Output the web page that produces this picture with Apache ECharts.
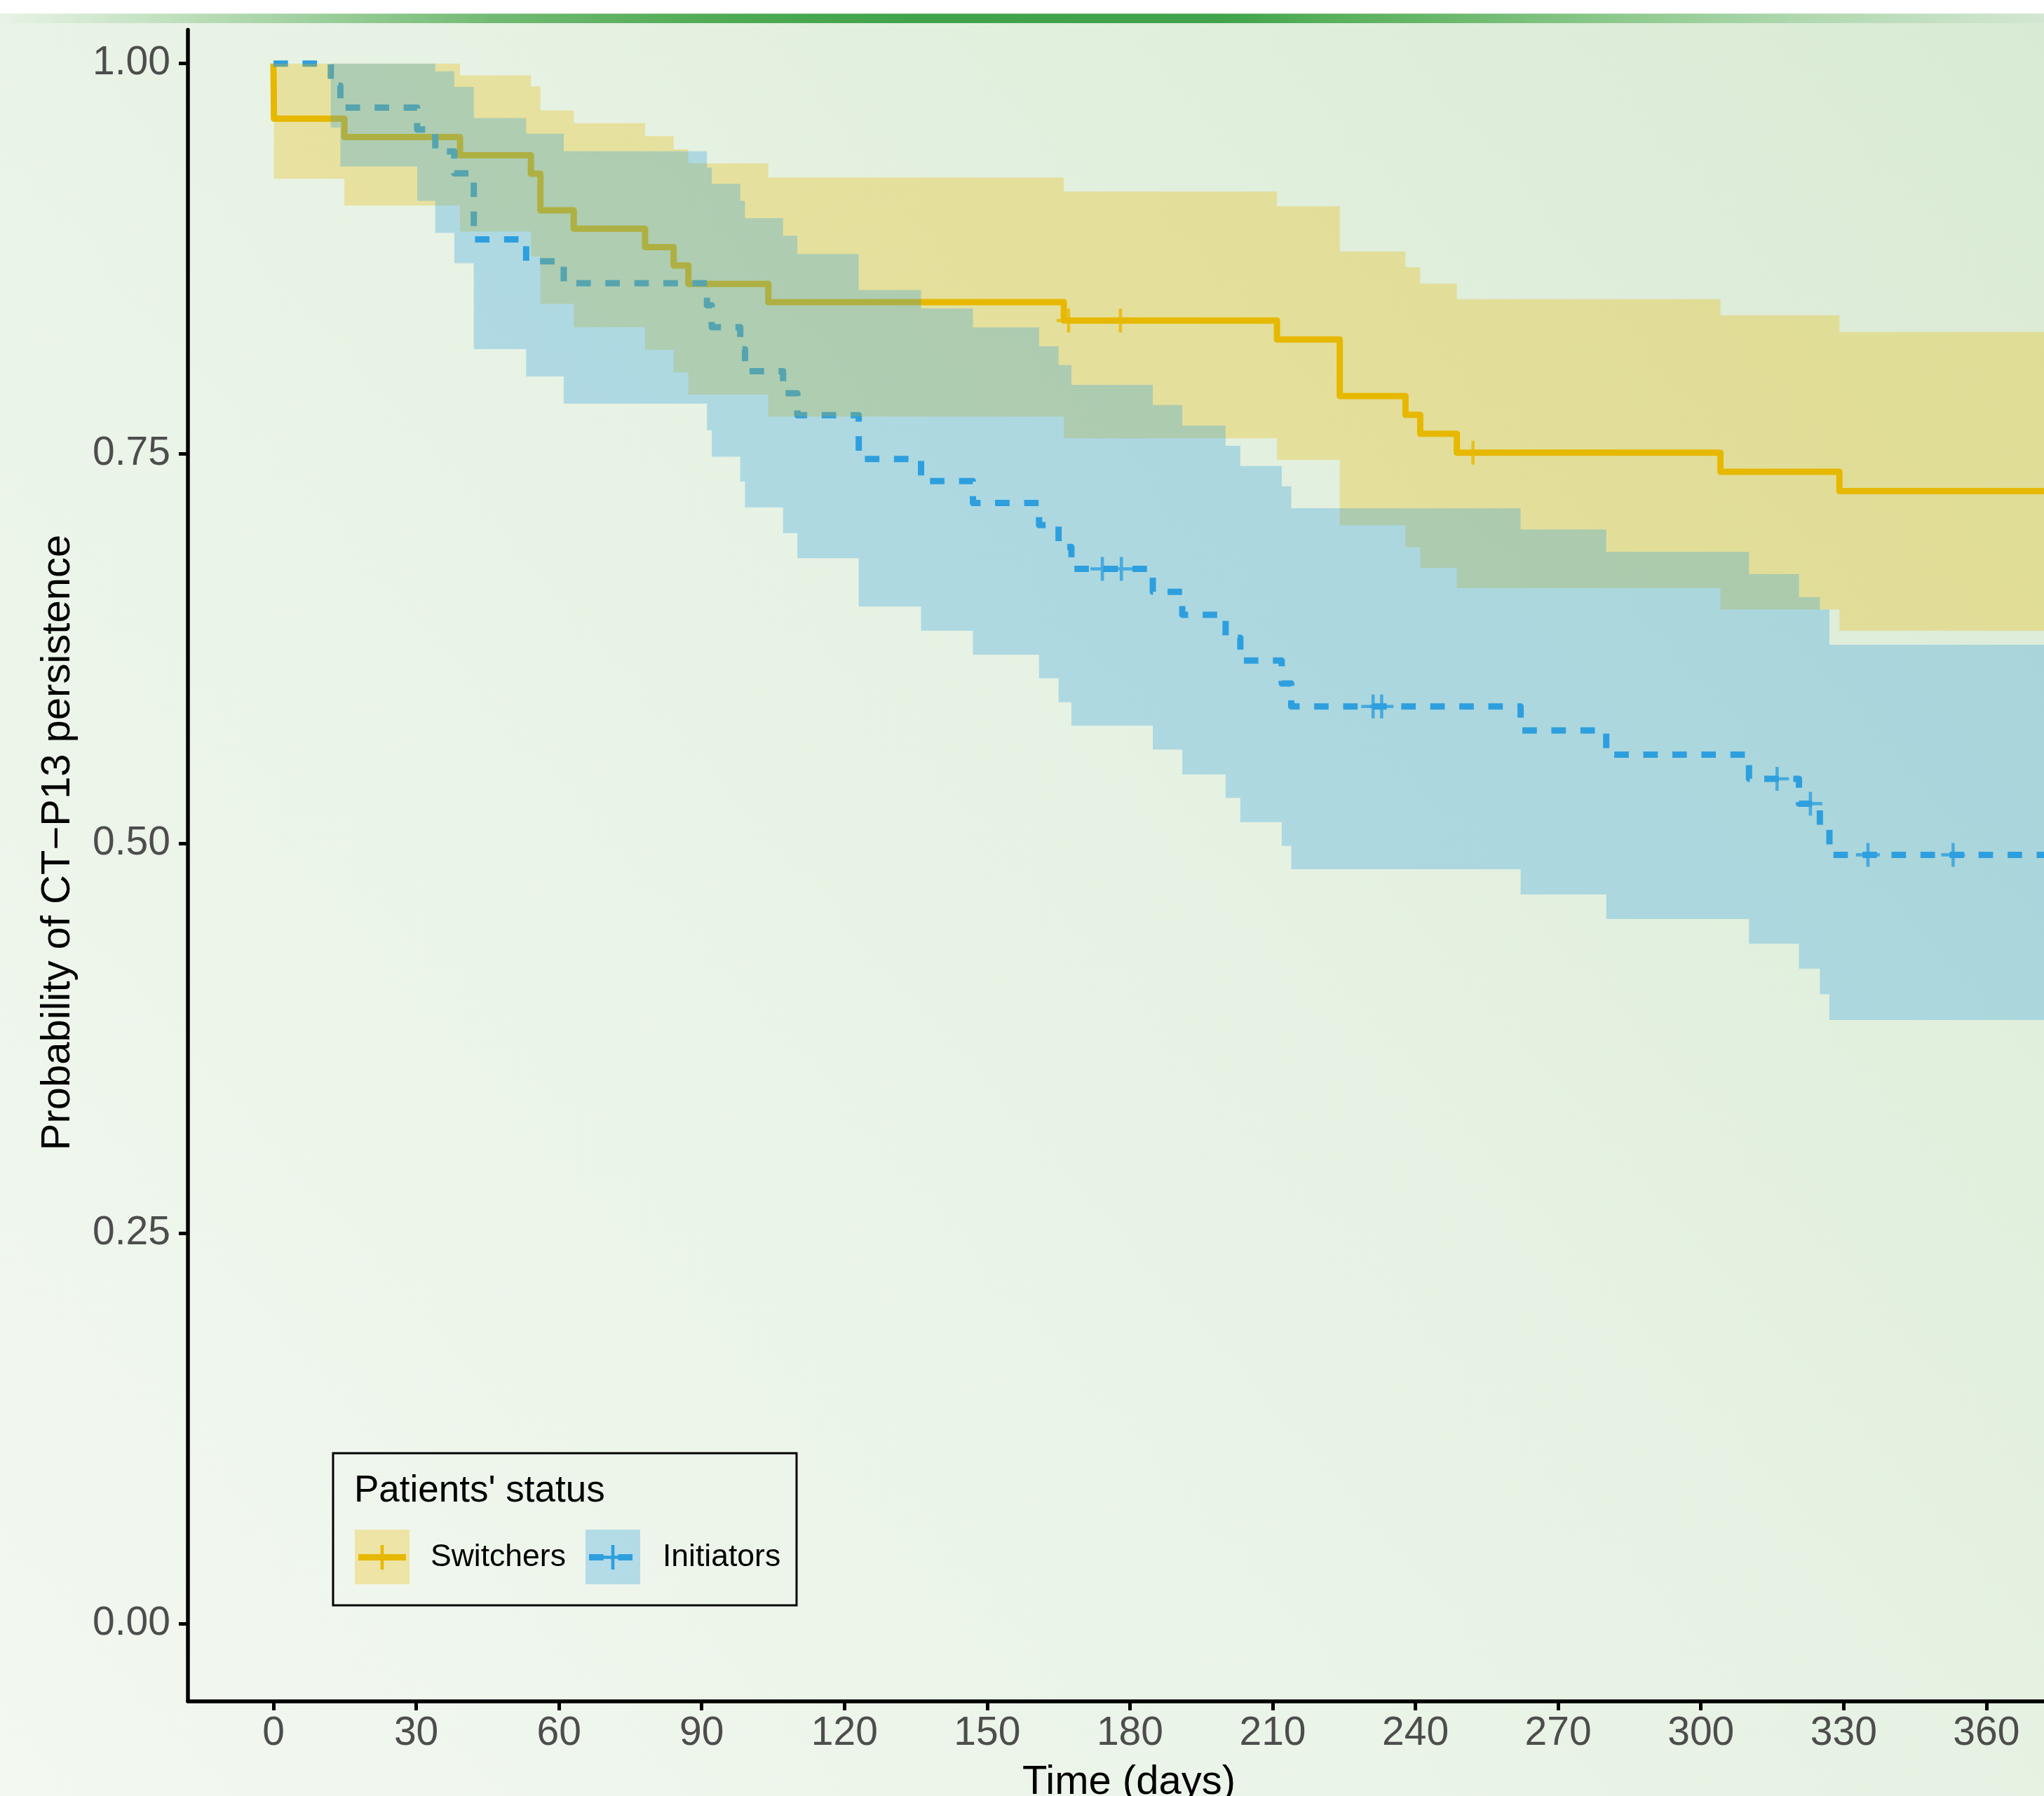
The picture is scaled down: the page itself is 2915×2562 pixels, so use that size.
<!DOCTYPE html>
<html>
<head>
<meta charset="utf-8">
<script src="https://cdn.jsdelivr.net/npm/echarts@6/dist/echarts.min.js"></script>
<style>
html,body{margin:0;padding:0;background:#ffffff;}
#chart{width:2915px;height:2562px;}
</style>
</head>
<body>
<div id="chart"></div>
<script>
// ---------------- data ----------------
const xTicks = [0, 30, 60, 90, 120, 150, 180, 210, 240, 270, 300, 330, 360];
const yTicks = [0, 0.25, 0.5, 0.75, 1];

const groupNames = ['Switchers', 'Initiators'];
const legendTitle = "Patients' status";

// Switchers: step times, survival, 95% CI
const switchTime  = [0, 0.1, 14.9, 39.2, 54.1, 56.1, 63.1, 78.1, 84.1, 87.2, 104.0, 166.1, 210.9, 224.1, 237.9, 241.0, 248.7, 304.1, 329.1, 372.1];
const switchSurv  = [1, 0.9647, 0.9529, 0.9412, 0.9294, 0.9059, 0.8941, 0.8824, 0.8706, 0.8588, 0.8471, 0.8353, 0.8232, 0.7869, 0.7748, 0.7627, 0.7506, 0.7383, 0.7260, 0.7260];
const switchLower = [1, 0.9262, 0.909, 0.8924, 0.8764, 0.846, 0.831, 0.8164, 0.802, 0.7879, 0.7737, 0.7598, 0.746, 0.704, 0.690, 0.6768, 0.6637, 0.650, 0.6365, 0.6365];
const switchUpper = [1, 1, 1, 0.9925, 0.9854, 0.970, 0.9618, 0.9535, 0.945, 0.936, 0.927, 0.918, 0.9085, 0.8795, 0.8694, 0.859, 0.849, 0.8386, 0.828, 0.828];
const switchCensorTime = [167.1, 178.0, 252.1];
const switchCensorSurv = [0.8353, 0.8353, 0.7506];

// Initiators: step times, survival, 95% CI
const initTime  = [0, 12.05, 14.06, 30.2, 34.0, 38.0, 42.1, 53.1, 61.0, 91.1, 92.1, 98.1, 99.1, 107.1, 110.1, 123.0, 136.1, 147.0, 160.9, 165.0, 167.7, 184.8, 191.0, 200.1, 203.2, 211.9, 213.9, 262.1, 280.1, 310.1, 320.6, 325.0, 327.0, 372.1];
const initSurv  = [1, 0.9859, 0.9718, 0.9577, 0.9437, 0.9296, 0.8873, 0.8732, 0.8592, 0.8451, 0.8310, 0.8169, 0.8028, 0.7887, 0.7746, 0.7465, 0.7324, 0.7183, 0.7042, 0.6901, 0.6761, 0.6614, 0.6467, 0.6320, 0.6173, 0.6026, 0.5879, 0.5725, 0.5570, 0.5415, 0.5256, 0.5092, 0.4928, 0.4928];
const initLower = [1, 0.959, 0.934, 0.912, 0.8915, 0.872, 0.817, 0.7994, 0.782, 0.765, 0.748, 0.732, 0.7155, 0.699, 0.683, 0.652, 0.6365, 0.621, 0.606, 0.5906, 0.5756, 0.5603, 0.5443, 0.5293, 0.5138, 0.4985, 0.4836, 0.4674, 0.4517, 0.4358, 0.4198, 0.4034, 0.3869, 0.3869];
const initUpper = [1, 1, 1, 1, 0.995, 0.985, 0.965, 0.955, 0.9438, 0.9334, 0.9229, 0.912, 0.9009, 0.8897, 0.878, 0.8548, 0.843, 0.8309, 0.8188, 0.8068, 0.794, 0.7811, 0.768, 0.755, 0.742, 0.729, 0.715, 0.7014, 0.687, 0.6727, 0.658, 0.650, 0.6275, 0.6275];
const initCensorTime = [174.2, 178.2, 231.1, 232.9, 316.0, 323.0, 335.1, 353.0];
const initCensorSurv = [0.6761, 0.6761, 0.5879, 0.5879, 0.5415, 0.5256, 0.4928, 0.4928];

// ---------------- styling ----------------
const FONT = "'Liberation Sans', Arial, Helvetica, sans-serif";
const YELLOW = '#E7B800';
const BLUE = '#2E9FDF';
const YELLOW_FILL = 'rgba(231,184,0,0.3)';
const BLUE_FILL = 'rgba(46,159,223,0.3)';
const DASH = [20.7, 20.7];
const PLUS = 'path://M-2.3,-17L2.3,-17L2.3,-2.3L17,-2.3L17,2.3L2.3,2.3L2.3,17L-2.3,17L-2.3,2.3L-17,2.3L-17,-2.3L-2.3,-2.3Z';

function bgGradient() {
  return {
    type: 'linear', x: 2915, y: 0, x2: 0, y2: 2562, global: true,
    colorStops: [
      { offset: 0, color: '#d9ead4' },
      { offset: 0.45, color: '#e6f2e3' },
      { offset: 1, color: '#f3f8f1' }
    ]
  };
}

function pairs(t, v) { return t.map((x, i) => [x, v[i]]); }

function ribbon(name, times, lower, upper, fill, z) {
  return {
    type: 'custom',
    name: name + ' CI',
    z: z,
    silent: true,
    clip: true,
    encode: { x: 0, y: [1, 2] },
    data: times.map((t, i) => [t, lower[i], upper[i]]),
    renderItem: function (params, api) {
      if (params.dataIndex !== 0) return null;
      const pts = [];
      for (let i = 0; i < times.length - 1; i++) {
        pts.push(api.coord([times[i], upper[i]]));
        pts.push(api.coord([times[i + 1], upper[i]]));
      }
      for (let i = times.length - 2; i >= 0; i--) {
        pts.push(api.coord([times[i + 1], lower[i]]));
        pts.push(api.coord([times[i], lower[i]]));
      }
      return { type: 'polygon', shape: { points: pts }, style: { fill: fill, stroke: null } };
    }
  };
}

const chart = echarts.init(document.getElementById('chart'), null, { renderer: 'canvas', width: 2915, height: 2562 });

// legend geometry
const LX = 475, LY = 2073, LW = 661, LH = 217;
const keyY = 2182, keySize = 78, itemMid = 2221.5;
const key1X = 506, key2X = 835;

const option = {
  animation: false,
  backgroundColor: 'transparent',
  grid: { left: 268, right: 0, top: 42.4, bottom: 135.3, containLabel: false, outerBoundsMode: 'none' },
  xAxis: {
    type: 'value',
    min: -17.98, max: 372.1,
    name: 'Time (days)',
    nameLocation: 'middle',
    nameGap: 87.7,
    nameTextStyle: { fontFamily: FONT, fontSize: 58, color: '#000000', lineHeight: 58, padding: [0, 0, 0, 37] },
    axisLine: { show: true, onZero: false, lineStyle: { color: '#000000', width: 5.5 } },
    axisTick: { show: true, customValues: xTicks, length: 13, lineStyle: { color: '#000000', width: 5 } },
    axisLabel: { show: true, customValues: xTicks, margin: 17.6, fontFamily: FONT, fontSize: 57, lineHeight: 57, color: '#4d4d4d',
      formatter: v => String(v) },
    splitLine: { show: false }
  },
  yAxis: {
    type: 'value',
    min: -0.0497, max: 1.0217,
    name: 'Probability of CT\u2212P13 persistence',
    nameLocation: 'middle',
    nameGap: 155.8,
    nameTextStyle: { fontFamily: FONT, fontSize: 58, color: '#000000', lineHeight: 58, padding: [0, 0, 0, 65] },
    axisLine: { show: true, onZero: false, lineStyle: { color: '#000000', width: 5.5 } },
    axisTick: { show: true, customValues: yTicks, length: 13, lineStyle: { color: '#000000', width: 5 } },
    axisLabel: { show: true, customValues: yTicks, margin: 25, fontFamily: FONT, fontSize: 57, lineHeight: 57, color: '#4d4d4d',
      formatter: v => v.toFixed(2) },
    splitLine: { show: false }
  },
  series: [
    {
      type: 'line', name: groupNames[0], z: 1, step: 'end', showSymbol: false, symbol: 'none', silent: true,
      data: pairs(switchTime, switchSurv),
      lineStyle: { color: YELLOW, width: 9, join: 'round', cap: 'butt' }
    },
    {
      type: 'line', name: groupNames[1], z: 1, step: 'end', showSymbol: false, symbol: 'none', silent: true,
      data: pairs(initTime, initSurv),
      lineStyle: { color: BLUE, width: 9, type: DASH, join: 'round', cap: 'butt' }
    },
    ribbon(groupNames[0], switchTime, switchLower, switchUpper, YELLOW_FILL, 2),
    ribbon(groupNames[1], initTime, initLower, initUpper, BLUE_FILL, 3),
    {
      type: 'scatter', name: groupNames[0] + ' censored', z: 4, silent: true,
      symbol: PLUS, symbolSize: 34,
      itemStyle: { color: YELLOW },
      data: pairs(switchCensorTime, switchCensorSurv)
    },
    {
      type: 'scatter', name: groupNames[1] + ' censored', z: 4, silent: true,
      symbol: PLUS, symbolSize: 34,
      itemStyle: { color: BLUE },
      data: pairs(initCensorTime, initCensorSurv)
    }
  ],
  graphic: [
    // page background
    { type: 'rect', z: -100, silent: true, shape: { x: 0, y: 0, width: 2915, height: 2562 }, style: { fill: bgGradient() } },
    // top header band
    { type: 'rect', z: 100, silent: true, shape: { x: 0, y: 0, width: 2915, height: 19.5 }, style: { fill: '#ffffff' } },
    { type: 'rect', z: 100, silent: true, shape: { x: 0, y: 19.5, width: 2915, height: 13.5 },
      style: { fill: { type: 'linear', x: 0, y: 0, x2: 1, y2: 0, colorStops: [
        { offset: 0, color: '#e8f3e6' }, { offset: 0.1, color: '#b8dcb6' }, { offset: 0.24, color: '#72ba73' },
        { offset: 0.36, color: '#4caa52' }, { offset: 0.45, color: '#40a34b' }, { offset: 0.6, color: '#41a44c' },
        { offset: 0.65, color: '#57b05c' }, { offset: 0.72, color: '#6fba70' }, { offset: 0.79, color: '#8dc98d' },
        { offset: 0.89, color: '#b2d9b1' }, { offset: 1, color: '#d3e7d2' } ] } } },
    // legend box
    { type: 'rect', z: 50, silent: true, shape: { x: LX, y: LY, width: LW, height: LH }, style: { fill: null, stroke: '#000000', lineWidth: 3 } },
    { type: 'text', z: 51, silent: true, x: 505, y: 2127.6,
      style: { text: legendTitle, fontFamily: FONT, fontSize: 53, fill: '#000000', verticalAlign: 'middle', align: 'left' } },
    // key 1
    { type: 'rect', z: 51, silent: true, shape: { x: key1X, y: keyY, width: keySize, height: keySize }, style: { fill: YELLOW_FILL } },
    { type: 'line', z: 52, silent: true, shape: { x1: key1X + 5, y1: itemMid, x2: key1X + keySize - 5, y2: itemMid }, style: { stroke: YELLOW, lineWidth: 9 } },
    { type: 'line', z: 52, silent: true, shape: { x1: key1X + 39, y1: itemMid - 17.5, x2: key1X + 39, y2: itemMid + 17.5 }, style: { stroke: YELLOW, lineWidth: 4.6 } },
    { type: 'text', z: 51, silent: true, x: 614, y: itemMid,
      style: { text: groupNames[0], fontFamily: FONT, fontSize: 44.5, fill: '#000000', verticalAlign: 'middle', align: 'left' } },
    // key 2
    { type: 'rect', z: 51, silent: true, shape: { x: key2X, y: keyY, width: keySize, height: keySize }, style: { fill: BLUE_FILL } },
    { type: 'line', z: 52, silent: true, shape: { x1: key2X + 5, y1: itemMid, x2: key2X + keySize - 5, y2: itemMid }, style: { stroke: BLUE, lineWidth: 9, lineDash: DASH } },
    { type: 'line', z: 52, silent: true, shape: { x1: key2X + 22, y1: itemMid, x2: key2X + 56, y2: itemMid }, style: { stroke: BLUE, lineWidth: 4.6 } },
    { type: 'line', z: 52, silent: true, shape: { x1: key2X + 39, y1: itemMid - 17.5, x2: key2X + 39, y2: itemMid + 17.5 }, style: { stroke: BLUE, lineWidth: 4.6 } },
    { type: 'text', z: 51, silent: true, x: 945, y: itemMid,
      style: { text: groupNames[1], fontFamily: FONT, fontSize: 44.5, fill: '#000000', verticalAlign: 'middle', align: 'left' } }
  ]
};

chart.setOption(option);
</script>
</body>
</html>
